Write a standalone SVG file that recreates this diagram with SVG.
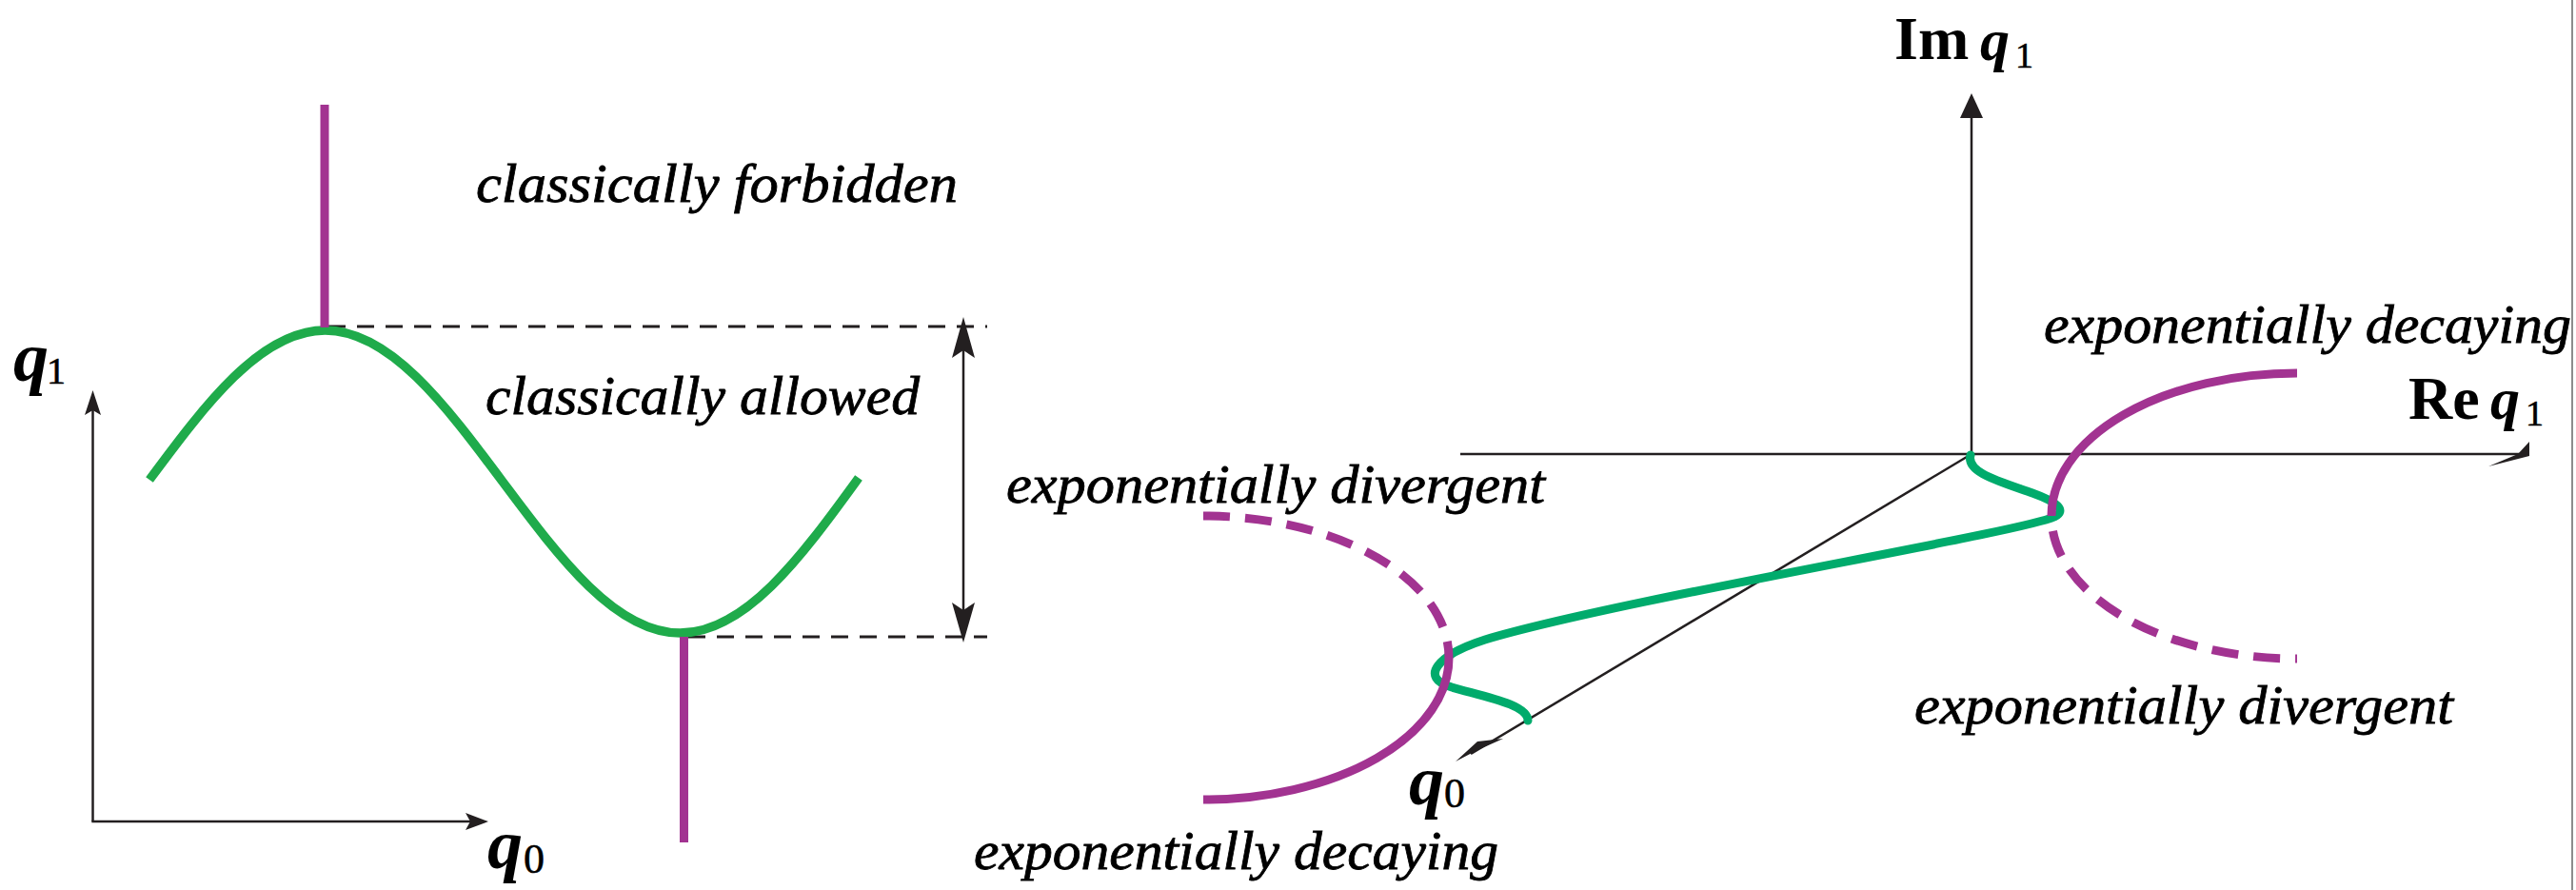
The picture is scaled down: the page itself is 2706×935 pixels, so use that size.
<svg xmlns="http://www.w3.org/2000/svg" width="2706" height="935" viewBox="0 0 2706 935">
<style>
.lbl{font-family:"Liberation Serif",serif;font-style:italic;font-size:56px;fill:#000;stroke:#000;stroke-width:0.8}
.mq{font-family:"Liberation Serif",serif;font-style:italic;font-weight:bold;fill:#000}
.mr{font-family:"Liberation Serif",serif;font-weight:bold;fill:#000}
.sub{font-family:"Liberation Serif",serif;fill:#000;stroke:#000;stroke-width:0.6}
.ax{stroke:#231f20;stroke-width:2.5;fill:none}
.dash{stroke:#231f20;stroke-width:3;stroke-dasharray:18 12;fill:none}
.head{fill:#231f20;stroke:none}
.gl{stroke:#1fab4b;stroke-width:9.5;fill:none;stroke-linecap:butt}
.gr{stroke:#00ab6c;stroke-width:9;fill:none;stroke-linecap:round}
.mg{stroke:#a23391;stroke-width:9;fill:none}
.mgd{stroke:#a23391;stroke-width:9;fill:none;stroke-dasharray:28 16}
</style>
<rect width="2706" height="935" fill="#fff"/>
<line x1="2702" y1="0" x2="2702" y2="935" stroke="#8c8c8c" stroke-width="2"/>

<g id="connectors">
  <line class="ax" x1="97.5" y1="863" x2="97.5" y2="425"/>
  <polygon class="head" points="97.5,410 89,436 97.5,431 106,436"/>
  <line class="ax" x1="96.3" y1="863" x2="500" y2="863"/>
  <polygon class="head" points="513,863 489,854 494,863 489,872"/>
  <line class="dash" x1="345" y1="343" x2="1037" y2="343"/>
  <line class="dash" x1="723" y1="669" x2="1037" y2="669"/>
  <line class="ax" x1="1012" y1="360" x2="1012" y2="650"/>
  <polygon class="head" points="1012,333 1000,376 1012,368 1024,376"/>
  <polygon class="head" points="1012,675 1000,633 1012,641 1024,633"/>
  <line class="ax" x1="1534" y1="477" x2="2647" y2="477"/>
  <polygon class="head" points="2657,464 2657,479 2614,490 2645,477"/>
  <line class="ax" x1="2071" y1="478" x2="2071" y2="118"/>
  <polygon class="head" points="2071,98 2059,124 2083,124"/>
  <line class="ax" x1="2071" y1="477" x2="1545" y2="792"/>
  <polygon class="head" points="1529,800 1552,779 1579,776 1550,789"/>
</g>

<g id="left-curve">
  <path class="gl" d="M157,504 C216,424.5 274,347 341.5,347 C409,347 467.2,424.5 528,506 C588.8,587.5 647,665 714.5,665 C782,665 840.2,587.5 902,502"/>
  <line class="mg" x1="341" y1="110" x2="341" y2="344"/>
  <line class="mg" x1="718.5" y1="669" x2="718.5" y2="885"/>
</g>

<g id="right-curve">
  <path class="gr" d="M2070,478 C2065,496 2098,505 2135,518 C2160,527 2172,536 2158,543 C2120,560 1700,630 1560,672 C1510,688 1490,712 1525,722 C1560,732 1605,740 1605,757"/>
  <path class="mg" d="M2155,542 A258,150 0 0 1 2413,392"/>
  <path class="mgd" style="stroke-dashoffset:28" d="M2155,542 A258,150 0 0 0 2413,692"/>
  <path class="mgd" d="M1264,542 A258,149 0 0 1 1522,691"/>
  <path class="mg" d="M1522,691 A258,149 0 0 1 1264,840"/>
</g>

<g id="label-forbidden"><text class="lbl" x="500" y="212" textLength="506" lengthAdjust="spacingAndGlyphs">classically forbidden</text></g>
<g id="label-allowed"><text class="lbl" x="510" y="435" textLength="456" lengthAdjust="spacingAndGlyphs">classically allowed</text></g>
<g id="label-div-left"><text class="lbl" x="1057" y="528" textLength="566" lengthAdjust="spacingAndGlyphs">exponentially divergent</text></g>
<g id="label-dec-bottom"><text class="lbl" x="1023" y="913" textLength="551" lengthAdjust="spacingAndGlyphs">exponentially decaying</text></g>
<g id="label-dec-top"><text class="lbl" x="2147" y="360" textLength="554" lengthAdjust="spacingAndGlyphs">exponentially decaying</text></g>
<g id="label-div-right"><text class="lbl" x="2011" y="760" textLength="566" lengthAdjust="spacingAndGlyphs">exponentially divergent</text></g>

<g id="axis-q1-left">
  <text class="mq" x="14" y="400" font-size="74">q</text>
  <text class="sub" x="49" y="403" font-size="40">1</text>
</g>
<g id="axis-q0-left">
  <text class="mq" x="512" y="912" font-size="74">q</text>
  <text class="sub" x="550" y="917" font-size="44">0</text>
</g>
<g id="axis-q0-right">
  <text class="mq" x="1480" y="845" font-size="74">q</text>
  <text class="sub" x="1517" y="848" font-size="44">0</text>
</g>
<g id="axis-im">
  <text class="mr" x="1990" y="62" font-size="64">Im</text>
  <text class="mq" x="2080" y="63" font-size="62">q</text>
  <text class="sub" x="2117" y="71" font-size="38">1</text>
</g>
<g id="axis-re">
  <text class="mr" x="2530" y="440" font-size="64">Re</text>
  <text class="mq" x="2616" y="440" font-size="62">q</text>
  <text class="sub" x="2653" y="447" font-size="38">1</text>
</g>
</svg>
